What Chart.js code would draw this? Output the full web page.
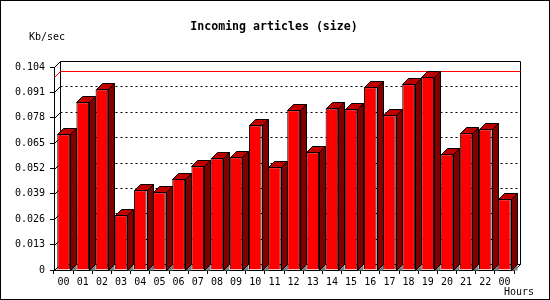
<!DOCTYPE html>
<html>
<head>
<meta charset="utf-8">
<script src="https://cdn.jsdelivr.net/npm/chart.js@4.4.1/dist/chart.umd.min.js"></script>
<style>
  body { margin: 0; background: #fff; }
  canvas { display: block; }
</style>
</head>
<body>
<canvas id="incoming" width="550" height="300"></canvas>
<script>
const hours = ['00','01','02','03','04','05','06','07','08','09','10','11',
               '12','13','14','15','16','17','18','19','20','21','22','00'];
const kbPerSec = [0.0695, 0.0859, 0.0926, 0.0280, 0.0408, 0.0398, 0.0466, 0.0531,
                  0.0572, 0.0577, 0.0741, 0.0526, 0.0818, 0.0603, 0.0828, 0.0823,
                  0.0936, 0.0793, 0.0951, 0.0990, 0.0593, 0.0700, 0.0721, 0.0362];
const yTicks = [0, 0.013, 0.026, 0.039, 0.052, 0.065, 0.078, 0.091, 0.104];

const peak = Math.max(...kbPerSec);
const depth = 6;
const mono = 'DejaVu Sans Mono';

const crisp = v => Math.round(v) + 0.5;

function seg(ctx, x1, y1, x2, y2) {
    ctx.beginPath();
    ctx.moveTo(x1, y1);
    ctx.lineTo(x2, y2);
    ctx.stroke();
}

function poly(ctx, pts, fill, stroke) {
    ctx.beginPath();
    ctx.moveTo(pts[0][0], pts[0][1]);
    for (let i = 1; i < pts.length; i++) ctx.lineTo(pts[i][0], pts[i][1]);
    ctx.closePath();
    ctx.fillStyle = fill;
    ctx.fill();
    if (stroke) {
        ctx.strokeStyle = stroke;
        ctx.stroke();
    }
}

// back walls, grid, peak line and the texts
const frame3d = {
    id: 'frame3d',
    beforeDatasetsDraw(chart) {
        const { ctx, chartArea: a, scales: { y } } = chart;
        const l = crisp(a.left), r = crisp(a.right), t = crisp(a.top), b = crisp(a.bottom);
        ctx.save();
        ctx.lineWidth = 1;
        ctx.strokeStyle = '#000';

        for (const v of yTicks) {
            if (v === 0 || v === yTicks[yTicks.length - 1]) continue;
            const py = crisp(y.getPixelForValue(v));
            ctx.setLineDash([]);
            seg(ctx, l, py, l + depth, py - depth);
            ctx.setLineDash([2, 3]);
            seg(ctx, l + depth, py - depth, r + depth, py - depth);
        }
        ctx.setLineDash([]);

        seg(ctx, l + depth, t - depth, l + depth, b - depth);
        seg(ctx, l + depth, t - depth, r + depth, t - depth);
        seg(ctx, r + depth, t - depth, r + depth, b - depth);
        seg(ctx, l + depth, b - depth, r + depth, b - depth);
        seg(ctx, l, t, l + depth, t - depth);
        seg(ctx, l, b, l + depth, b - depth);
        seg(ctx, r, b, r + depth, b - depth);

        const pk = crisp(y.getPixelForValue(peak));
        ctx.strokeStyle = '#ff0000';
        seg(ctx, l, pk, l + depth, pk - depth);
        seg(ctx, l + depth, pk - depth, r + depth, pk - depth);
        ctx.restore();
    },
    afterDatasetsDraw(chart) {
        const { ctx } = chart;
        const meta = chart.getDatasetMeta(0);
        ctx.save();
        ctx.lineWidth = 1;
        for (const el of meta.data) {
            const { x, y, base, width } = el.getProps(['x', 'y', 'base', 'width'], true);
            const l = crisp(x - width / 2), r = crisp(x + width / 2);
            const t = crisp(y), b = crisp(base);
            poly(ctx, [[r, b], [r + depth, b - depth], [r + depth, b]], '#808080');
            poly(ctx, [[r, t], [r + depth, t - depth], [r + depth, b - depth], [r, b]], '#800000', '#000');
            poly(ctx, [[l, t], [l + depth, t - depth], [r + depth, t - depth], [r, t]], '#c00000', '#000');
        }

        ctx.fillStyle = '#000';
        ctx.textBaseline = 'middle';
        ctx.font = 'bold 11.6px ' + mono;
        ctx.textAlign = 'center';
        ctx.fillText('Incoming articles (size)', 274, 27);
        ctx.font = '10px ' + mono;
        ctx.textAlign = 'left';
        ctx.fillText('Kb/sec', 29, 37);
        ctx.fillText('Hours', 504, 292);

        ctx.strokeStyle = '#000';
        ctx.strokeRect(0.5, 0.5, 549, 299);
        ctx.restore();
    }
};

new Chart(document.getElementById('incoming'), {
    type: 'bar',
    data: {
        labels: hours,
        datasets: [{
            data: kbPerSec,
            backgroundColor: '#ff0000',
            borderColor: '#000',
            borderWidth: 1,
            barPercentage: 0.66,
            categoryPercentage: 1
        }]
    },
    options: {
        responsive: false,
        animation: false,
        devicePixelRatio: 1,
        layout: { padding: { top: 67, right: 36, bottom: 0, left: 0 } },
        plugins: {
            legend: { display: false },
            tooltip: { enabled: false },
            title: { display: false }
        },
        scales: {
            x: {
                offset: true,
                grid: { drawOnChartArea: false, color: '#000', tickLength: 4, offset: true },
                border: { display: true, color: '#000' },
                ticks: {
                    color: '#000',
                    font: { family: mono, size: 10 },
                    padding: 2,
                    maxRotation: 0,
                    autoSkip: false
                },
                afterFit: s => { s.height = 30; }
            },
            y: {
                min: 0,
                max: 0.104,
                afterBuildTicks: s => { s.ticks = yTicks.map(v => ({ value: v })); },
                grid: { drawOnChartArea: false, color: '#000', tickLength: 4 },
                border: { display: true, color: '#000' },
                ticks: {
                    color: '#000',
                    font: { family: mono, size: 10 },
                    padding: 5,
                    callback: v => v === 0 ? '0' : v.toFixed(3)
                },
                afterFit: s => { s.width = 54; }
            }
        }
    },
    plugins: [frame3d]
});
</script>
</body>
</html>
